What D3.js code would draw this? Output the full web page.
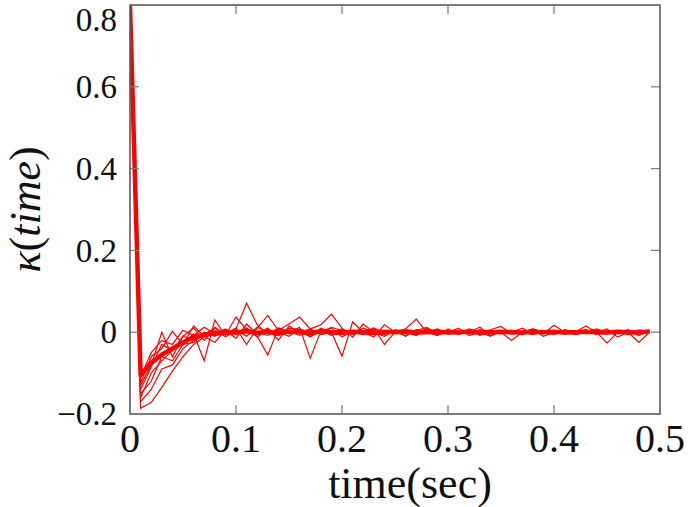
<!DOCTYPE html>
<html>
<head>
<meta charset="utf-8">
<script src="https://cdn.jsdelivr.net/npm/d3@7"></script>
<style>
  html, body { margin: 0; padding: 0; background: #fff; }
  svg { display: block; }
</style>
</head>
<body>
<svg id="chart" width="688" height="507"></svg>
<script>
// ---- data ----
const times = [0,0.01,0.02,0.03,0.04,0.05,0.06,0.07,0.08,0.09,
  0.10,0.11,0.12,0.13,0.14,0.15,0.16,0.17,0.18,0.19,
  0.20,0.21,0.22,0.23,0.24,0.25,0.26,0.27,0.28,0.29,
  0.30,0.31,0.32,0.33,0.34,0.35,0.36,0.37,0.38,0.39,
  0.40,0.41,0.42,0.43,0.44,0.45,0.46,0.47,0.48,0.49];

const run1 = [0.80,-0.186,-0.172,-0.135,-0.095,-0.060,-0.030,-0.012,0.000,-0.006,
  0.008,0.071,0.018,-0.004,0.010,0.002,-0.008,0.004,0.000,0.012,
  0.004,-0.006,0.002,0.008,-0.004,0.002,0.000,-0.006,0.004,0.000,
  -0.003,0.005,0.000,-0.004,0.002,0.000,0.005,-0.003,0.000,0.003,
  0.000,-0.004,0.002,0.000,0.004,-0.002,0.000,0.003,-0.002,0.004];
const run2 = [0.80,-0.160,-0.100,-0.070,-0.045,-0.028,-0.004,-0.070,0.030,-0.008,
  0.037,0.006,-0.010,-0.056,0.010,0.000,0.012,-0.064,0.002,0.010,
  -0.012,0.004,0.000,0.010,-0.030,0.000,0.008,0.032,0.000,-0.008,
  0.008,-0.004,0.000,0.012,-0.008,0.000,-0.020,0.000,0.008,-0.004,
  0.017,0.000,0.004,0.002,0.000,-0.027,0.000,0.006,-0.008,0.004];
const run3 = [0.80,-0.140,-0.085,-0.030,-0.045,-0.010,0.010,-0.020,0.012,-0.005,
  0.010,-0.030,0.010,0.041,0.004,0.020,0.037,0.008,0.018,0.044,
  0.010,-0.012,0.020,0.000,-0.010,0.006,0.000,-0.008,0.010,0.000,
  0.004,-0.006,0.008,0.000,-0.010,0.004,0.000,0.010,-0.004,0.000,
  -0.006,0.006,0.000,0.015,0.000,0.008,-0.012,0.000,-0.025,0.000];
const run4 = [0.80,-0.125,-0.060,-0.040,0.002,-0.030,0.015,-0.010,-0.025,0.005,
  -0.015,0.020,-0.005,0.010,-0.020,0.015,0.000,-0.010,0.010,0.000,
  -0.059,0.025,0.000,-0.012,0.018,0.000,-0.008,0.004,0.012,-0.006,
  0.000,0.010,-0.008,0.000,0.006,0.014,-0.004,0.000,0.006,-0.010,
  0.000,0.004,-0.006,0.000,0.008,0.000,0.004,-0.006,0.006,0.002];
const run5 = [0.80,-0.150,-0.120,-0.060,-0.070,-0.030,-0.025,-0.005,0.010,-0.012,
  0.005,-0.010,0.012,0.000,-0.008,0.010,0.006,-0.012,0.004,0.000,
  0.008,-0.004,0.010,0.000,-0.006,0.004,-0.010,0.006,0.000,0.008,
  -0.004,0.000,0.006,-0.008,0.000,0.004,0.000,-0.006,0.008,0.000,
  0.004,-0.004,0.000,0.006,-0.006,0.000,0.004,0.000,-0.004,0.006];
const run6 = [0.80,-0.110,-0.050,-0.020,-0.030,0.005,-0.008,0.012,-0.004,0.008,
  -0.006,0.010,-0.012,0.006,0.000,-0.010,0.008,0.000,0.006,-0.008,
  0.004,0.000,-0.006,0.010,0.000,0.004,-0.004,0.000,0.008,-0.006,
  0.000,0.004,-0.004,0.006,0.000,-0.004,0.004,0.000,-0.006,0.002,
  0.004,0.000,-0.004,0.004,0.000,0.002,-0.004,0.004,0.000,0.002];
const run7 = [0.80,-0.130,-0.080,0.000,-0.060,-0.010,-0.020,0.000,-0.010,0.006,
  -0.004,0.008,0.000,-0.008,0.006,-0.004,0.000,0.008,-0.006,0.000,
  0.006,-0.002,0.000,0.004,-0.004,0.000,0.006,-0.002,0.000,0.004,
  -0.004,0.002,0.000,-0.002,0.004,0.000,-0.004,0.002,0.000,0.004,
  -0.002,0.000,0.004,-0.002,0.000,-0.004,0.002,0.000,0.002,0.000];
const run8 = [0.80,-0.170,-0.140,-0.090,-0.080,-0.040,-0.020,-0.005,0.004,-0.006,
  0.002,0.006,-0.004,0.000,0.004,-0.002,0.000,0.006,-0.004,0.000,
  0.002,-0.004,0.004,0.000,-0.002,0.002,0.000,-0.004,0.002,0.000,
  0.002,0.000,-0.002,0.002,0.000,-0.002,0.000,0.002,0.000,-0.002,
  0.002,0.000,-0.002,0.000,0.002,0.000,-0.002,0.002,0.000,0.004];
const meanRun = [0.80,-0.105,-0.075,-0.055,-0.040,-0.025,-0.012,-0.006,-0.003,-0.002,
  0.000,0.002,-0.002,0.001,-0.003,0.002,0.000,-0.002,0.002,0.000,
  -0.002,0.001,0.000,-0.002,0.001,0.000,0.002,-0.001,0.000,0.001,
  -0.001,0.000,0.001,-0.001,0.000,0.001,0.000,-0.001,0.001,0.000,
  0.001,-0.001,0.000,0.001,0.000,-0.001,0.001,0.000,-0.001,0.002];

const thinRuns = [run1, run2, run3, run4, run5, run6, run7, run8];

const xTicks = [0, 0.1, 0.2, 0.3, 0.4, 0.5];
const xTickLabels = ["0", "0.1", "0.2", "0.3", "0.4", "0.5"];
const yTicks = [-0.2, 0, 0.2, 0.4, 0.6, 0.8];
const yTickLabels = ["\u22120.2", "0", "0.2", "0.4", "0.6", "0.8"];

// ---- layout ----
const FONT = "'Liberation Serif', 'DejaVu Serif', serif";
const L = 130, R = 660, T = 5, B = 414;
const svg = d3.select("#chart");

const x = d3.scaleLinear().domain([0, 0.5]).range([L, R]);
const y = d3.scaleLinear().domain([-0.2, 0.8]).range([B, T]);

svg.append("defs").append("clipPath").attr("id", "clip")
  .append("rect").attr("x", L).attr("y", T).attr("width", R - L).attr("height", B - T);

const line = d3.line().x((d, i) => x(times[i])).y(d => y(d));

const plot = svg.append("g").attr("clip-path", "url(#clip)");
thinRuns.forEach(r => {
  plot.append("path").datum(r).attr("d", line)
    .attr("fill", "none").attr("stroke", "#ff0000")
    .attr("stroke-width", 1.2).attr("stroke-linejoin", "miter");
});
plot.append("path").datum(meanRun).attr("d", line)
  .attr("fill", "none").attr("stroke", "#ff0000")
  .attr("stroke-width", 4.5).attr("stroke-linejoin", "round");

// ticks (inward, on all four sides)
const tickLen = 9;
const tg = svg.append("g").attr("stroke", "#7a7a7a").attr("stroke-width", 1.2);
xTicks.filter(v => v > 0 && v < 0.5).forEach(v => {
  tg.append("line").attr("x1", x(v)).attr("x2", x(v)).attr("y1", B).attr("y2", B - tickLen);
  tg.append("line").attr("x1", x(v)).attr("x2", x(v)).attr("y1", T).attr("y2", T + tickLen);
});
yTicks.filter(v => v > -0.2 && v < 0.8).forEach(v => {
  tg.append("line").attr("x1", L).attr("x2", L + tickLen).attr("y1", y(v)).attr("y2", y(v));
  tg.append("line").attr("x1", R).attr("x2", R - tickLen).attr("y1", y(v)).attr("y2", y(v));
});

// frame
svg.append("rect").attr("x", L).attr("y", T).attr("width", R - L).attr("height", B - T)
  .attr("fill", "none").attr("stroke", "#5a5a5a").attr("stroke-width", 1.6);

// tick labels
svg.append("g").selectAll("text").data(xTicks).join("text")
  .attr("x", d => x(d)).attr("y", 452)
  .attr("text-anchor", "middle").attr("font-size", 40)
  .attr("font-family", FONT).attr("fill", "#111")
  .text((d, i) => xTickLabels[i]);

svg.append("g").selectAll("text").data(yTicks).join("text")
  .attr("x", 117).attr("y", d => Math.max(y(d), 20))
  .attr("dy", "0.34em")
  .attr("text-anchor", "end").attr("font-size", 33)
  .attr("font-family", FONT).attr("fill", "#111")
  .text((d, i) => yTickLabels[i]);

// axis titles
svg.append("text").attr("x", 410).attr("y", 498)
  .attr("text-anchor", "middle").attr("font-size", 44)
  .attr("font-family", FONT).attr("fill", "#111").text("time(sec)");

const yt = svg.append("text")
  .attr("transform", `translate(40,${(T + B) / 2}) rotate(-90)`)
  .attr("text-anchor", "middle").attr("font-size", 44)
  .attr("font-family", FONT).attr("fill", "#111");
yt.append("tspan").attr("font-style", "italic").text("\u03BA");
yt.append("tspan").text("(");
yt.append("tspan").attr("font-style", "italic").text("time");
yt.append("tspan").text(")");
</script>
</body>
</html>
